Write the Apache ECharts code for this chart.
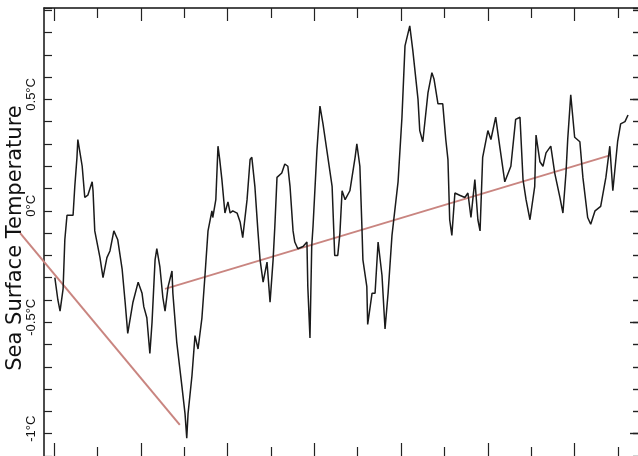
<!DOCTYPE html>
<html>
<head>
<meta charset="utf-8">
<script src="https://cdn.jsdelivr.net/npm/echarts@6/dist/echarts.min.js"></script>
<style>
html,body{margin:0;padding:0;background:#fff;}
#main{width:638px;height:456px;}
</style>
</head>
<body>
<div id="main"></div>
<script>
// x positions of the black curve (axis units, one tick = 10)
var sstX = [10.2,10.9,11.4,12.1,12.5,13.0,14.4,14.8,15.3,15.5,16.0,16.5,17.1,17.8,18.8,19.0,19.4,20.6,21.3,22.2,
	22.9,23.8,24.7,25.7,26.4,27.0,28.2,29.4,30.3,30.7,31.4,32.1,32.6,33.3,33.7,34.4,35.1,35.6,36.3,37.2,
	37.4,38.3,39.5,40.2,40.6,40.9,41.8,42.5,43.2,44.1,44.8,45.5,46.4,46.6,47.3,47.8,48.2,48.7,49.4,50.1,
	50.6,51.2,52.2,52.9,53.5,54.5,55.2,55.6,56.3,57.0,57.5,58.2,59.1,59.8,60.5,60.9,61.4,62.5,63.2,63.9,
	64.4,65.1,65.5,66.2,67.4,68.3,68.5,69.0,69.4,69.7,70.6,71.3,72.0,72.9,74.1,74.7,75.4,75.9,76.4,77.1,
	78.2,79.4,79.8,80.5,81.0,81.2,82.1,82.3,83.3,84.0,84.7,85.6,86.3,87.0,87.9,89.3,90.2,90.9,92.0,92.7,
	93.9,94.3,95.0,96.2,97.1,97.6,98.5,99.6,100.3,100.8,101.2,101.7,102.4,103.5,104.7,105.4,106.1,107.0,107.7,108.2,
	108.8,110.0,110.7,111.8,112.8,113.9,115.3,116.4,117.4,118.1,118.8,119.7,120.8,121.1,122.0,122.7,123.4,124.5,125.4,126.6,
	127.3,128.0,128.4,129.1,130.0,131.2,131.9,133.0,133.7,134.7,136.0,137.2,138.1,138.8,139.9,140.6,141.6,142.3];
// temperature anomaly (°C)
var sstY = [-0.30,-0.40,-0.45,-0.35,-0.13,-0.02,-0.02,0.11,0.24,0.32,0.26,0.20,0.06,0.07,0.13,0.09,-0.09,-0.21,-0.30,-0.21,
	-0.18,-0.09,-0.13,-0.26,-0.41,-0.55,-0.41,-0.32,-0.37,-0.43,-0.48,-0.64,-0.50,-0.22,-0.17,-0.25,-0.39,-0.45,-0.34,-0.27,
	-0.37,-0.59,-0.79,-0.91,-1.02,-0.91,-0.74,-0.56,-0.62,-0.48,-0.29,-0.09,0.00,-0.03,0.05,0.29,0.23,0.14,-0.01,0.04,
	-0.01,0.00,-0.01,-0.05,-0.12,0.05,0.23,0.24,0.11,-0.09,-0.22,-0.32,-0.23,-0.41,-0.22,-0.07,0.15,0.17,0.21,0.20,
	0.11,-0.09,-0.14,-0.17,-0.16,-0.14,-0.34,-0.57,-0.16,-0.07,0.27,0.47,0.39,0.27,0.11,-0.20,-0.20,-0.10,0.09,0.05,
	0.09,0.24,0.30,0.20,-0.09,-0.22,-0.34,-0.51,-0.37,-0.37,-0.14,-0.29,-0.53,-0.37,-0.11,0.13,0.42,0.74,0.83,0.72,
	0.50,0.36,0.31,0.53,0.62,0.59,0.48,0.48,0.32,0.23,-0.04,-0.11,0.08,0.07,0.06,0.08,-0.03,0.14,-0.04,-0.09,
	0.24,0.36,0.32,0.42,0.28,0.13,0.20,0.41,0.42,0.14,0.05,-0.04,0.11,0.34,0.22,0.20,0.26,0.29,0.17,0.06,
	-0.01,0.17,0.32,0.52,0.33,0.31,0.15,-0.03,-0.06,0.00,0.02,0.15,0.29,0.09,0.31,0.39,0.40,0.43];

// two trend lines (start and end points)
var trend1X = [2.2, 39.0];
var trend1Y = [-0.10, -0.96];
var trend2X = [35.6, 138.3];
var trend2Y = [-0.35, 0.25];

// tick positions
var xTicksLong = [10,30,50,70,90,110,130];
var xTicksShort = [20,40,60,80,100,120,140];
var yLabels = [-1,-0.5,0,0.5];

function pairs(xs, ys){
	var out = [];
	for(var i=0;i<xs.length;i++){
		out.push([xs[i], ys[i]]);
	}
	return out;
}

var xMin = 7.7, xMax = 144.6;
var yMin = -1.1, yMax = 0.91;
// the first trend line starts left of the y axis: a second, wider grid with the same scale
var xMinWide = xMin - 44 / (594 / (xMax - xMin));

function xAx(pos, ticks, len, showLine){
	return {
		type:'value', position:pos, min:xMin, max:xMax,
		axisLine:{show:showLine, onZero:false, lineStyle:{color:'#111', width:1.5}},
		axisTick:{show:true, inside:true, length:len, customValues:ticks, lineStyle:{color:'#222', width:1.2}},
		axisLabel:{show:false}, splitLine:{show:false}
	};
}

var myChart = echarts.init(document.getElementById('main'));
var option = {
	backgroundColor:'#fff',
	animation:false,
	grid:[
		{left:44, right:0, top:8, bottom:0, containLabel:false, outerBoundsMode:'none'},
		{left:0, right:0, top:8, bottom:0, containLabel:false, outerBoundsMode:'none'}
	],
	xAxis:[
		xAx('bottom', xTicksLong, 13, false),
		xAx('bottom', xTicksShort, 9, false),
		xAx('top', xTicksLong, 13, true),
		xAx('top', xTicksShort, 10, false),
		{type:'value', gridIndex:1, min:xMinWide, max:xMax, show:false}
	],
	yAxis:[
		{
			type:'value', position:'left', min:yMin, max:yMax, interval:0.1,
			name:'Sea Surface Temperature', nameLocation:'middle', nameGap:18, nameMoveOverlap:false,
			nameTextStyle:{fontFamily:'DejaVu Sans', fontSize:21, color:'#111', padding:[0,12,0,0]},
			axisLine:{show:true, onZero:false, lineStyle:{color:'#111', width:1.5}},
			axisTick:{show:true, inside:true, length:8, lineStyle:{color:'#222', width:1.2}},
			axisLabel:{
				show:true, rotate:90, margin:6, customValues:yLabels,
				fontFamily:'Liberation Sans', fontSize:13, color:'#111',
				padding:[0,0,0,10],
				formatter:function(v){ return v + '°C'; }
			},
			splitLine:{show:false}
		},
		{
			type:'value', position:'right', min:yMin, max:yMax, interval:0.1,
			axisLine:{show:false},
			axisTick:{show:true, inside:true, length:5, lineStyle:{color:'#222', width:1.4}},
			axisLabel:{show:false}, splitLine:{show:false}
		},
		{
			type:'value', position:'right', min:yMin, max:yMax,
			axisLine:{show:false},
			axisTick:{show:true, inside:true, length:8, customValues:yLabels, lineStyle:{color:'#222', width:1.4}},
			axisLabel:{show:false}, splitLine:{show:false}
		},
		{type:'value', gridIndex:1, min:yMin, max:yMax, show:false}
	],
	series:[
		{
			name:'trend1', type:'line', symbol:'none', xAxisIndex:4, yAxisIndex:3,
			data:pairs(trend1X, trend1Y),
			lineStyle:{color:'#c98580', width:2}
		},
		{
			name:'trend2', type:'line', symbol:'none',
			data:pairs(trend2X, trend2Y),
			lineStyle:{color:'#c98580', width:2}
		},
		{
			name:'sst', type:'line', symbol:'none',
			data:pairs(sstX, sstY),
			lineStyle:{color:'#1a1a1a', width:1.5}
		}
	]
};
myChart.setOption(option);
</script>
</body>
</html>
